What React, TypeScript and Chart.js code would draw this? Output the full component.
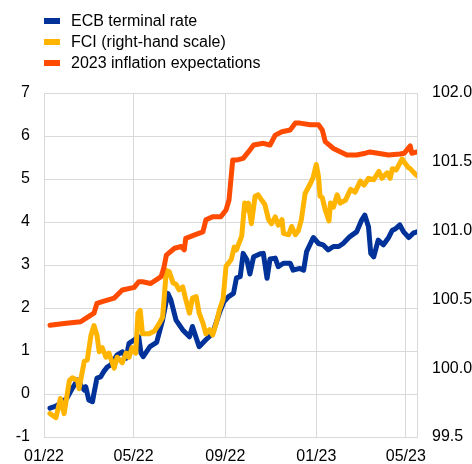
import React, { useEffect, useRef } from 'react';
import { Chart, registerables } from 'chart.js';

Chart.register(...registerables);

// x values are days since 2022-01-01
const xTickDays = [0, 120, 243, 365, 485];
const xTickLabels = ['01/22', '05/22', '09/22', '01/23', '05/23'];

const seriesLabels = ['ECB terminal rate', 'FCI (right-hand scale)', '2023 inflation expectations'];
const seriesColors = ['#003299', '#FFB400', '#FF4B00'];

const ecbDay = [8, 13, 18, 24, 31, 38, 45, 49, 54, 56, 60, 65, 67, 71, 76, 80, 85, 89, 94, 98, 105, 110, 114, 121, 127, 130, 133, 142, 151, 159, 166, 170, 177, 186, 195, 199, 208, 217, 226, 235, 241, 247, 254, 258, 263, 267, 272, 276, 281, 290, 294, 299, 303, 310, 314, 321, 330, 334, 343, 348, 352, 361, 368, 374, 381, 388, 395, 401, 410, 419, 426, 430, 435, 438, 442, 448, 455, 462, 467, 471, 477, 482, 489, 495, 500];
const ecbValue = [-0.33, -0.30, -0.26, -0.19, -0.09, 0.13, 0.33, 0.21, 0.09, 0.17, -0.14, -0.18, 0.02, 0.37, 0.40, 0.52, 0.63, 0.67, 0.79, 0.91, 0.98, 0.83, 1.18, 1.26, 1.33, 0.95, 0.87, 1.10, 1.20, 1.72, 2.34, 2.19, 1.72, 1.49, 1.33, 1.57, 1.10, 1.26, 1.41, 1.88, 2.14, 2.26, 2.34, 2.70, 2.73, 3.27, 3.12, 2.79, 3.19, 3.26, 3.27, 2.69, 3.14, 3.16, 2.96, 3.04, 3.04, 2.88, 2.92, 2.88, 3.31, 3.64, 3.50, 3.47, 3.35, 3.43, 3.43, 3.50, 3.66, 3.77, 4.05, 4.16, 3.89, 3.27, 3.19, 3.58, 3.47, 3.64, 3.81, 3.84, 3.93, 3.77, 3.64, 3.74, 3.77];

const fciDay = [8, 13, 16, 22, 27, 34, 38, 45, 47, 54, 58, 63, 67, 71, 74, 78, 83, 87, 94, 98, 105, 110, 114, 118, 123, 126, 129, 132, 141, 148, 155, 159, 164, 168, 173, 177, 181, 186, 190, 195, 199, 204, 208, 213, 217, 222, 226, 231, 235, 240, 244, 251, 255, 258, 265, 269, 272, 274, 278, 283, 287, 292, 296, 301, 305, 310, 314, 319, 321, 328, 332, 337, 341, 345, 350, 357, 361, 365, 368, 370, 373, 377, 382, 384, 388, 393, 397, 404, 411, 417, 424, 429, 435, 442, 449, 453, 460, 464, 467, 472, 476, 480, 484, 488, 491, 496, 500];
const fciValue = [99.67, 99.65, 99.64, 99.78, 99.67, 99.91, 99.93, 99.91, 99.85, 100.05, 100.06, 100.24, 100.31, 100.24, 100.12, 100.15, 100.08, 100.11, 100.00, 100.08, 100.04, 100.11, 100.08, 100.15, 100.11, 100.40, 100.42, 100.25, 100.25, 100.27, 100.33, 100.37, 100.71, 100.70, 100.62, 100.61, 100.57, 100.59, 100.50, 100.40, 100.51, 100.52, 100.40, 100.33, 100.25, 100.28, 100.24, 100.33, 100.42, 100.50, 100.74, 100.79, 100.88, 100.86, 100.96, 101.20, 101.15, 101.20, 101.05, 101.25, 101.26, 101.22, 101.19, 101.08, 101.05, 101.10, 101.04, 101.08, 100.98, 100.97, 101.03, 100.97, 101.00, 101.08, 101.27, 101.34, 101.39, 101.48, 101.39, 101.25, 101.24, 101.15, 101.07, 101.20, 101.17, 101.26, 101.20, 101.22, 101.30, 101.28, 101.36, 101.33, 101.38, 101.37, 101.43, 101.38, 101.42, 101.38, 101.45, 101.44, 101.48, 101.52, 101.49, 101.46, 101.45, 101.42, 101.40];

const inflDay = [8, 27, 49, 56, 67, 71, 78, 94, 105, 121, 127, 132, 143, 157, 161, 164, 175, 184, 188, 190, 202, 213, 217, 226, 237, 244, 248, 253, 258, 267, 274, 281, 294, 303, 310, 319, 330, 337, 343, 357, 368, 373, 377, 388, 406, 419, 431, 437, 462, 477, 483, 491, 493, 500];
const inflValue = [1.60, 1.64, 1.68, 1.76, 1.88, 2.11, 2.15, 2.23, 2.42, 2.48, 2.61, 2.61, 2.57, 2.73, 2.96, 3.23, 3.39, 3.43, 3.35, 3.62, 3.70, 3.77, 4.05, 4.12, 4.12, 4.28, 4.51, 5.44, 5.44, 5.48, 5.63, 5.79, 5.83, 5.79, 6.02, 6.10, 6.14, 6.30, 6.30, 6.26, 6.26, 6.14, 5.87, 5.71, 5.56, 5.56, 5.60, 5.63, 5.56, 5.58, 5.60, 5.77, 5.60, 5.63];

const FONT_FAMILY = '"Liberation Sans", Arial, Helvetica, sans-serif';
const GRID = '#d9d9d9';

const toPoints = (xs: number[], ys: number[]) => xs.map((x, i) => ({ x, y: ys[i] }));

export default function App() {
  const ref = useRef<HTMLCanvasElement>(null);

  useEffect(() => {
    const canvas = ref.current;
    if (!canvas) return;
    const font = { family: FONT_FAMILY, size: 16 };
    const chart = new Chart(canvas, {
      type: 'line',
      data: {
        datasets: [
          { label: seriesLabels[0], data: toPoints(ecbDay, ecbValue), borderColor: seriesColors[0], backgroundColor: seriesColors[0], yAxisID: 'y', order: 2 },
          { label: seriesLabels[1], data: toPoints(fciDay, fciValue), borderColor: seriesColors[1], backgroundColor: seriesColors[1], yAxisID: 'y1', order: 1 },
          { label: seriesLabels[2], data: toPoints(inflDay, inflValue), borderColor: seriesColors[2], backgroundColor: seriesColors[2], yAxisID: 'y', order: 0 },
        ],
      },
      options: {
        animation: false,
        responsive: false,
        devicePixelRatio: 1,
        layout: { padding: { top: 93, left: 0, right: 0, bottom: 0 } },
        plugins: { legend: { display: false }, tooltip: { enabled: false } },
        elements: {
          point: { radius: 0 },
          line: { borderWidth: 5, tension: 0, borderJoinStyle: 'round', borderCapStyle: 'round' },
        },
        scales: {
          x: {
            type: 'linear',
            min: 0,
            max: 500,
            afterBuildTicks: (s: any) => {
              s.ticks = xTickDays.map((v) => ({ value: v }));
            },
            afterFit: (s: any) => {
              s.height = 27;
            },
            ticks: {
              autoSkip: false,
              maxRotation: 0,
              padding: 10,
              color: '#000',
              font,
              callback: (v: any) => {
                const i = xTickDays.indexOf(Number(v));
                return i >= 0 ? xTickLabels[i] : '';
              },
            },
            grid: { color: GRID, lineWidth: 1, drawTicks: false },
            border: { display: true, color: GRID },
          },
          y: {
            position: 'left',
            min: -1,
            max: 7,
            afterFit: (s: any) => {
              s.width = 44;
            },
            ticks: { stepSize: 1, padding: 14, color: '#000', font },
            grid: { color: GRID, lineWidth: 1, drawTicks: false },
            border: { display: true, color: GRID },
          },
          y1: {
            position: 'right',
            min: 99.5,
            max: 102,
            afterFit: (s: any) => {
              s.width = 55;
            },
            ticks: {
              stepSize: 0.5,
              padding: 15,
              color: '#000',
              font,
              callback: (v: any) => Number(v).toFixed(1),
            },
            grid: { display: false, drawTicks: false },
            border: { display: true, color: GRID },
          },
        },
      } as any,
    });
    return () => chart.destroy();
  }, []);

  return (
    <div style={{ position: 'fixed', left: 0, top: 0, width: 472, height: 464, background: '#fff' }}>
      <canvas ref={ref} width={472} height={464} style={{ width: 472, height: 464, display: 'block' }} />
      <div
        style={{
          position: 'absolute',
          left: 44,
          top: 10,
          fontFamily: FONT_FAMILY,
          fontSize: 16,
          color: '#000',
        }}
      >
        {seriesLabels.map((label, i) => (
          <div key={label} style={{ display: 'flex', alignItems: 'center', height: 21, whiteSpace: 'nowrap' }}>
            <span style={{ display: 'inline-block', width: 16, height: 6, background: seriesColors[i], marginRight: 11 }} />
            <span>{label}</span>
          </div>
        ))}
      </div>
    </div>
  );
}
